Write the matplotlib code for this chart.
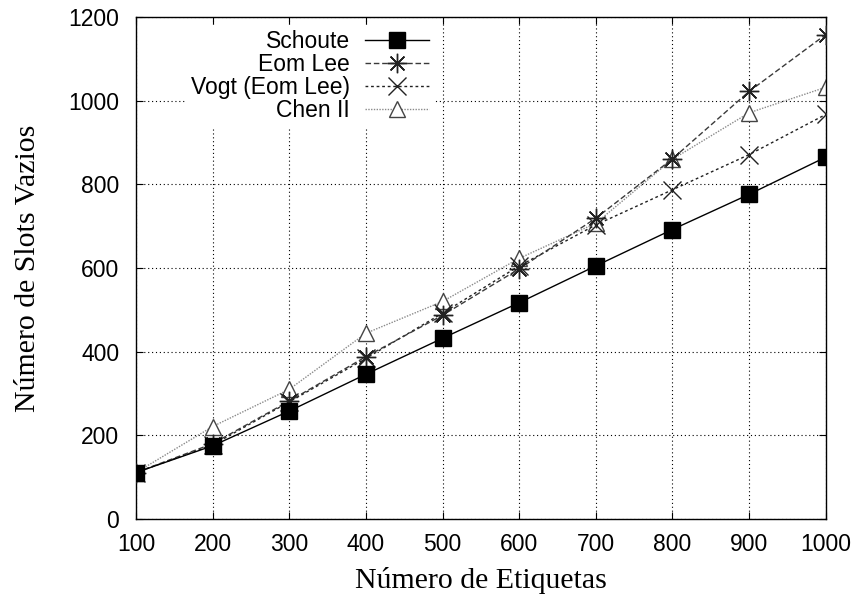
#!/usr/bin/env python3

import matplotlib
matplotlib.use('Agg')
from matplotlib import pyplot as plt

# data
etiquetas = [100, 200, 300, 400, 500, 600, 700, 800, 900, 1000]
schoute = [111, 175, 258, 346, 432, 517, 605, 692, 776, 865]
eom_lee = [111, 180, 282, 388, 487, 598, 719, 861, 1022, 1158]
vogt = [111, 177, 280, 384, 492, 605, 703, 787, 871, 967]
chen = [111, 221, 310, 444, 520, 623, 707, 860, 971, 1032]

x_ticks = [100, 200, 300, 400, 500, 600, 700, 800, 900, 1000]
y_ticks = [0, 200, 400, 600, 800, 1000, 1200]

plt.rcParams['font.family'] = ['Liberation Sans', 'DejaVu Sans']

fig = plt.figure(dpi=100, figsize=(8.61, 5.99))
ax = fig.add_axes([0.158, 0.1336, 0.801, 0.838])

# lines, gnuplot style
ax.plot(etiquetas, schoute, color='black', linewidth=1.0, marker='s',
        markersize=11, markerfacecolor='black', label='Schoute', zorder=5)
ax.plot(etiquetas, eom_lee, color='#3a3a3a', linewidth=1.0, linestyle=(0, (4, 2)),
        marker=(8, 2, 0), markersize=14, markeredgewidth=1.0,
        markeredgecolor='#222222', label='Eom Lee', zorder=4)
ax.plot(etiquetas, vogt, color='#202020', linewidth=1.0, linestyle=(0, (2, 2)),
        marker='x', markersize=13, markeredgewidth=1.0,
        markeredgecolor='#222222', label='Vogt (Eom Lee)', zorder=3)
ax.plot(etiquetas, chen, color='#8a8a8a', linewidth=1.0, linestyle=(0, (1, 1)),
        marker='^', markersize=11, markerfacecolor='white',
        markeredgecolor='#444444', markeredgewidth=1.0, label='Chen II', zorder=2)

ax.set_xlim(100, 1000)
ax.set_ylim(0, 1200)
ax.set_xticks(x_ticks)
ax.set_yticks(y_ticks)
ax.tick_params(axis='both', which='major', direction='in', length=5,
               top=True, right=True, labelsize=16.5)
ax.tick_params(axis='x', pad=10)
ax.tick_params(axis='y', pad=12)
ax.grid(True, color='black', linestyle=(0, (1, 2.5)), linewidth=0.8)
ax.set_axisbelow(True)
for s in ax.spines.values():
    s.set_linewidth(1.0)

ax.set_xlabel('Número de Etiquetas', fontsize=21.5, family='Liberation Serif', labelpad=8)
ax.set_ylabel('Número de Slots Vazios', fontsize=21.5, family='Liberation Serif', labelpad=20)

leg = ax.legend(loc='upper right', bbox_to_anchor=(0.4334, 0.985), markerfirst=False,
                fontsize=16.5, frameon=True, fancybox=False, edgecolor='none',
                facecolor='white', framealpha=1.0, borderaxespad=0, borderpad=0.25,
                handlelength=2.8, handletextpad=0.65, labelspacing=0.0)
leg.set_zorder(10)

plt.savefig('out.png', dpi=100)
